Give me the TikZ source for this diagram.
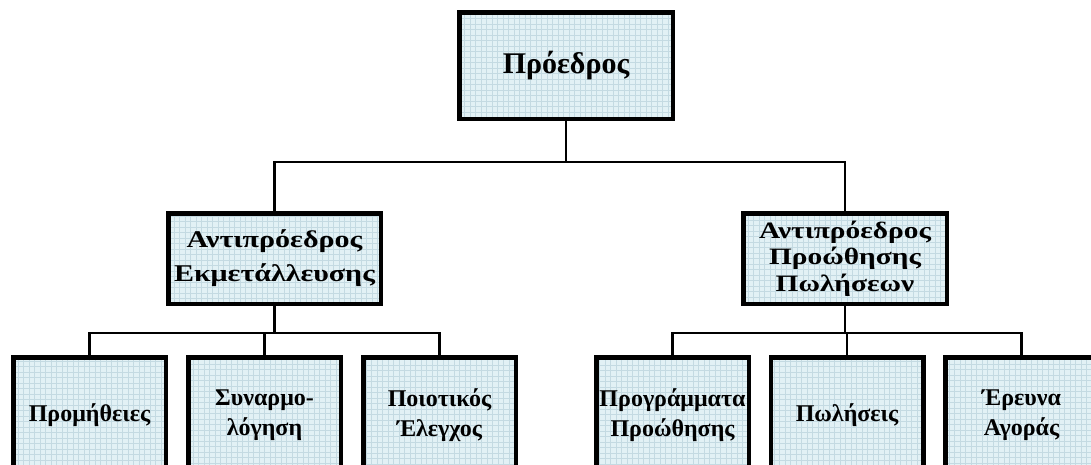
\documentclass[tikz,border=0pt]{standalone}
\usepackage{fontspec}
\setmainfont{Liberation Serif}
\newfontfamily\widefont[FakeStretch=1.25]{Liberation Serif}
\usetikzlibrary{calc}
\definecolor{boxfill}{RGB}{226,241,245}
\definecolor{gridline}{RGB}{196,218,226}
\tikzset{
  orgbox/.style={draw=black, line width=4.5pt, fill=boxfill, align=center,
    inner sep=0pt, font=\bfseries,
    path picture={\draw[gridline, line width=0.35pt, step=5.5pt]
      (path picture bounding box.south west) grid (path picture bounding box.north east);}},
  link/.style={draw=black, line width=2.2pt},
}
\begin{document}
\begin{tikzpicture}[x=1pt, y=-1pt]
\useasboundingbox (0,0) rectangle (1091,464);
% top level
\node[orgbox, minimum width=213.5pt, minimum height=106.5pt, font=\bfseries\fontsize{30}{34}\selectfont] (pres) at (566,65.5) {Πρόεδρος};
% vice presidents
\node[orgbox, minimum width=212.5pt, minimum height=90.5pt, font=\widefont\bfseries\fontsize{24}{34}\selectfont] (vpl) at (274.5,258.5) {Αντιπρόεδρος\\Εκμετάλλευσης};
\node[orgbox, minimum width=203.5pt, minimum height=90.5pt, font=\widefont\bfseries\fontsize{23.5}{26.5}\selectfont] (vpr) at (845,258.5) {Αντιπρόεδρος\\Προώθησης\\Πωλήσεων};
% departments
\tikzset{dept/.style={orgbox, minimum width=152.5pt, minimum height=115.5pt, font=\bfseries\fontsize{24}{30}\selectfont}}
\node[dept] (d1) at (89.5,415) {Προμήθειες};
\node[dept] (d2) at (264.5,415) {Συναρμο-\\λόγηση};
\node[dept] (d3) at (439.5,415) {Ποιοτικός\\Έλεγχος};
\node[dept] (d4) at (672.5,415) {Προγράμματα\\Προώθησης};
\node[dept] (d5) at (847,415) {Πωλήσεις};
\node[dept] (d6) at (1021.5,415) {Έρευνα\\Αγοράς};
% junction points
\coordinate (jt) at (566,162);
\coordinate (jl) at (274.5,333);
\coordinate (jr) at (845,333);
% connectors
\draw[link] (pres.south) -- (jt);
\draw[link] (jt) -| (vpl.north);
\draw[link] (jt) -| (vpr.north);
\draw[link] (vpl.south) -- (jl);
\draw[link] (jl) -| (d1.north);
\draw[link] (jl) -| (d2.north);
\draw[link] (jl) -| (d3.north);
\draw[link] (vpr.south) -- (jr);
\draw[link] (jr) -| (d4.north);
\draw[link] (jr) -| (d5.north);
\draw[link] (jr) -| (d6.north);
\end{tikzpicture}
\end{document}
